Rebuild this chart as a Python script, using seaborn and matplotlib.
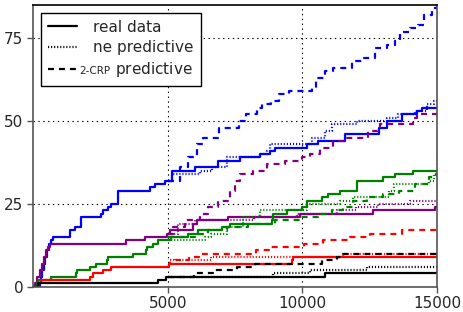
import matplotlib
matplotlib.use("Agg")
import matplotlib.pyplot as plt
import pandas as pd
import seaborn as sns
from matplotlib.lines import Line2D

# step data: time of each change and the count reached there
blue_real_t = [0, 250, 300, 350, 400, 450, 520, 600, 680, 750, 1360, 1550, 1780, 2510, 2600, 2790, 2880, 3160,
               4330, 4520, 4890, 5150, 6015, 6880, 7690, 8430, 8800, 8990, 10190, 10600, 11590, 12860, 13160,
               13690, 14250, 14430, 15000]
blue_real_n = [0, 1, 3, 5, 7, 9, 11, 13, 14, 15, 17, 18, 21, 22, 23, 24, 25, 29,
               30, 31, 32, 35, 36, 38, 39, 40, 41, 42, 43, 44, 46, 48, 50,
               52, 53, 54, 54]
blue_ne_t = [5000, 5150, 6200, 6640, 7190, 8430, 8670, 8800, 10350, 10840, 11090, 12020, 13130, 13570, 14180,
             14620, 14900, 15000]
blue_ne_n = [32, 34, 35, 36, 39, 40, 41, 43, 45, 47, 49, 50, 51, 52, 53, 55, 56, 56]
blue_crp_t = [5000, 5460, 5770, 6080, 6300, 6900, 7650, 7900, 8300, 8500, 8850, 9150, 9500, 10350, 10510, 10840,
              11150, 11830, 12200, 12700, 13130, 13440, 13630, 14000, 14300, 14500, 14800, 15000]
blue_crp_n = [32, 36, 39, 43, 45, 48, 50, 52, 54, 55, 56, 58, 59, 60, 63, 65,
              66, 68, 69, 72, 73, 74, 77, 78, 79, 82, 84, 85]

purple_real_t = [0, 80, 150, 250, 330, 400, 470, 560, 620, 3470, 4150, 4960, 5090, 5950, 6080, 7250, 9910,
                 12640, 14930, 15000]
purple_real_n = [0, 1, 3, 5, 7, 9, 11, 12, 13, 14, 15, 16, 17, 19, 20, 21, 22, 23, 24, 24]
purple_ne_t = [5000, 5400, 6000, 8200, 9800, 11300, 12000, 12800, 14000, 15000]
purple_ne_n = [16, 19, 20, 21, 22, 23, 24, 25, 26, 26]
purple_crp_t = [5000, 5200, 5640, 6200, 6500, 6870, 7310, 7500, 7690, 8180, 8670, 9360, 9980, 10290, 10660,
                11150, 11590, 12430, 12820, 12900, 14120, 14250, 15000]
purple_crp_n = [16, 18, 20, 22, 24, 26, 29, 32, 34, 35, 37, 38, 39, 40, 42,
                44, 45, 47, 48, 49, 51, 52, 52]

green_real_t = [0, 150, 200, 660, 1600, 1650, 2100, 2350, 2750, 2800, 3700, 4200, 4250, 4460, 4640, 5140, 5770,
                6140, 7000, 7310, 8870, 8900, 9420, 9980, 10160, 10720, 10950, 11400, 12020, 13000, 13440, 14120,
                15000]
green_real_n = [0, 1, 2, 3, 4, 5, 6, 7, 8, 9, 10, 11, 12, 13, 14, 15, 16,
                17, 18, 19, 20, 22, 23, 24, 26, 27, 28, 29, 32, 33, 34, 35,
                35]
green_ne_t = [5000, 6400, 6600, 7200, 7800, 8430, 10160, 11400, 11900, 13220, 13400, 14700, 14900, 15000]
green_ne_n = [14, 15, 16, 18, 21, 23, 25, 26, 27, 29, 31, 32, 34, 34]
green_crp_t = [5000, 6000, 6500, 7200, 8000, 9000, 9900, 10600, 11100, 11500, 11900, 12400, 13000, 13600, 14200,
               14700, 14950, 15000]
green_crp_n = [15, 16, 17, 18, 19, 20, 21, 22, 23, 24, 26, 27, 28, 29, 31, 33, 34, 34]

red_real_t = [0, 200, 310, 2100, 2230, 2600, 2900, 5050, 9600, 9650, 15000]
red_real_n = [0, 1, 2, 3, 4, 5, 6, 7, 8, 9, 9]
red_ne_t = [5000, 5100, 6600, 11500, 15000]
red_ne_n = [7, 8, 9, 10, 10]
red_crp_t = [5000, 5270, 5790, 6150, 8280, 8780, 10050, 10780, 11770, 12500, 13690, 15000]
red_crp_n = [7, 8, 9, 10, 11, 12, 13, 14, 15, 16, 17, 17]

black_real_t = [0, 200, 4640, 4950, 10840, 15000]
black_real_n = [0, 1, 2, 3, 4, 4]
black_ne_t = [5000, 8900, 10300, 12400, 15000]
black_ne_n = [3, 4, 5, 6, 6]
black_crp_t = [5000, 5960, 6730, 7560, 8240, 10720, 11300, 11520, 15000]
black_crp_n = [3, 4, 5, 6, 7, 8, 9, 10, 10]

legend_labels = ["real data", "ne predictive", "predictive"]
legend_small_prefix = "2-CRP"

series = [
    ("#0000ff", [(blue_real_t, blue_real_n), (blue_ne_t, blue_ne_n), (blue_crp_t, blue_crp_n)]),
    ("#800080", [(purple_real_t, purple_real_n), (purple_ne_t, purple_ne_n), (purple_crp_t, purple_crp_n)]),
    ("#008000", [(green_real_t, green_real_n), (green_ne_t, green_ne_n), (green_crp_t, green_crp_n)]),
    ("#ff0000", [(red_real_t, red_real_n), (red_ne_t, red_ne_n), (red_crp_t, red_crp_n)]),
    ("#000000", [(black_real_t, black_real_n), (black_ne_t, black_ne_n), (black_crp_t, black_crp_n)]),
]

sns.set_style("ticks")
plt.rcParams["font.family"] = ["DejaVu Sans"]
plt.rcParams["lines.scale_dashes"] = False

styles = ["-", (0, (0.8, 1.4)), (0, (4.3, 3.6))]

fig = plt.figure(figsize=(4.63, 3.12), dpi=100)
ax = fig.add_axes([0.0713, 0.081, 0.8725, 0.903])

for color, runs in series:
    for (t, n), ls in zip(runs, styles):
        df = pd.DataFrame({"t": t, "n": n})
        sns.lineplot(data=df, x="t", y="n", ax=ax, color=color, linestyle=ls,
                     drawstyle="steps-post", estimator=None, linewidth=1.6)

ax.set_xlim(0, 15000)
ax.set_ylim(0, 85)
ax.set_xticks([5000, 10000, 15000])
ax.set_yticks([0, 25, 50, 75])
ax.set_xlabel("")
ax.set_ylabel("")
ax.tick_params(labelsize=11, length=4, width=1, color="#555555", pad=3)
ax.grid(True, color="black", linestyle=(0, (1, 2.5)), linewidth=0.8)
for sp in ax.spines.values():
    sp.set_color("#555555")
    sp.set_linewidth(1.2)
ax.spines["top"].set_color("black")

# legend with black handles; third label gets a smaller "2-CRP" in front
handles = [Line2D([], [], color="black", linestyle=ls, linewidth=1.6) for ls in styles]
labels = [legend_labels[0], legend_labels[1], r"$\hspace{1.5}$" + legend_labels[2]]
leg = ax.legend(handles, labels, loc="upper left", fontsize=11, frameon=True, fancybox=False,
                edgecolor="black", framealpha=1, handlelength=1.9, handletextpad=1.1,
                labelspacing=0.35, borderpad=0.45, borderaxespad=0.5)
leg.get_frame().set_linewidth(1.0)

fig.canvas.draw()
bb_first = leg.get_texts()[0].get_window_extent()
bb = leg.get_texts()[2].get_window_extent()
W, H = fig.canvas.get_width_height()
fig.text((bb_first.x0 - 14) / W, (bb.y0 + 5.5) / H, legend_small_prefix, ha="left", va="baseline",
         fontsize=7.5, zorder=10)

fig.savefig("out.png", dpi=100)
